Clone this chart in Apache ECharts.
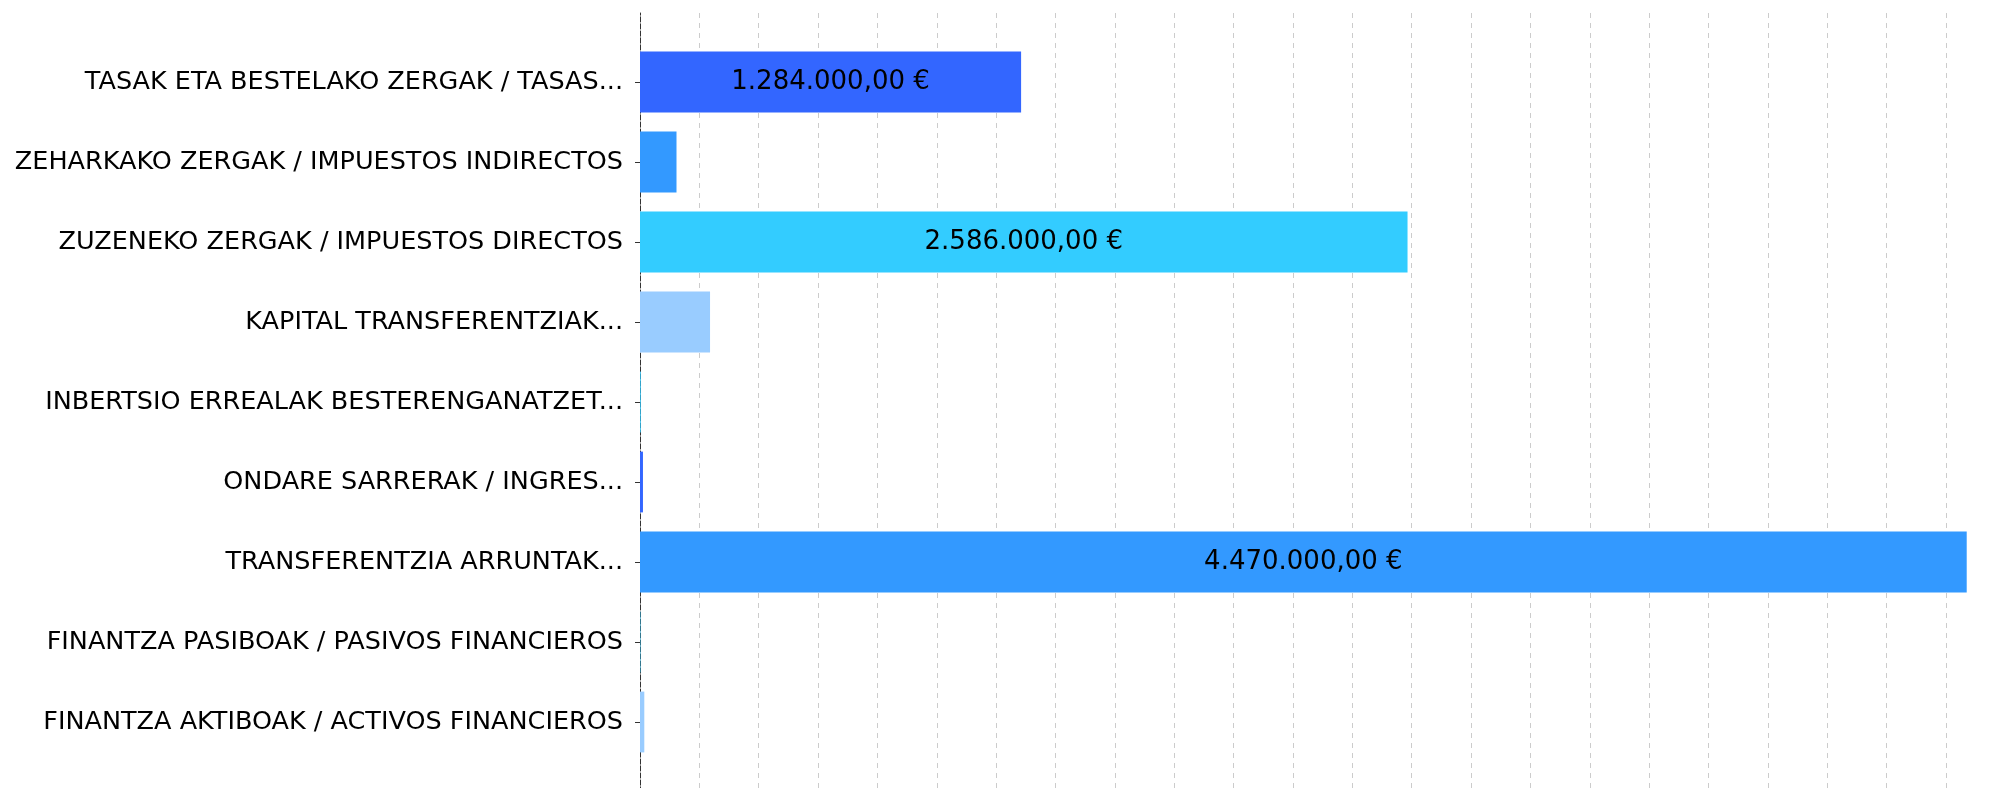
<!DOCTYPE html>
<html>
<head>
<meta charset="utf-8">
<script src="https://cdn.jsdelivr.net/npm/echarts@6/dist/echarts.min.js"></script>
<style>
html,body{margin:0;padding:0;background:#fff;}
#chart{width:1995px;height:788px;}
</style>
</head>
<body>
<div id="chart"></div>
<script>
var categories = [
  'TASAK ETA BESTELAKO ZERGAK / TASAS...',
  'ZEHARKAKO ZERGAK / IMPUESTOS INDIRECTOS',
  'ZUZENEKO ZERGAK / IMPUESTOS DIRECTOS',
  'KAPITAL TRANSFERENTZIAK...',
  'INBERTSIO ERREALAK BESTERENGANATZET...',
  'ONDARE SARRERAK / INGRES...',
  'TRANSFERENTZIA ARRUNTAK...',
  'FINANTZA PASIBOAK / PASIVOS FINANCIEROS',
  'FINANTZA AKTIBOAK / ACTIVOS FINANCIEROS'
];
var values = [1284000, 123000, 2586000, 236000, 2500, 10000, 4470000, 1500, 14500];
var palette = ['#3366ff', '#3399ff', '#33ccff', '#99ccff', '#33ccff', '#3366ff', '#3399ff', '#33ccff', '#99ccff'];
var labelThreshold = 500000;

function fmtEuro(v) {
  var parts = v.toFixed(2).split('.');
  var intPart = parts[0].replace(/\B(?=(\d{3})+(?!\d))/g, '.');
  return intPart + ',' + parts[1] + ' €';
}

var FONT = 'DejaVu Sans';
var chart = echarts.init(document.getElementById('chart'), null, {renderer: 'canvas'});
var gridLeft = 640, gridWidth = 1365.3;

chart.setOption({
  animation: false,
  backgroundColor: '#ffffff',
  grid: [
    {left: gridLeft, width: gridWidth, top: 42, height: 720, containLabel: false, outerBoundsMode: 'none'},
    {left: gridLeft, width: gridWidth, top: 13, height: 800, containLabel: false, outerBoundsMode: 'none'}
  ],
  xAxis: [
    {gridIndex: 0, type: 'value', min: 0, max: 4600000, interval: 200000, show: false},
    {gridIndex: 1, type: 'value', min: 0, max: 4600000, interval: 200000,
      axisLine: {show: false}, axisTick: {show: false}, axisLabel: {show: false},
      splitLine: {show: true, lineStyle: {color: '#cccccc', width: 1, type: [5, 5]}}}
  ],
  yAxis: [
    {gridIndex: 0, type: 'category', inverse: true, data: categories,
      axisLine: {show: false},
      axisTick: {show: true, alignWithLabel: true, length: 5, lineStyle: {color: '#333333'}},
      axisLabel: {margin: 17, color: '#000000', fontFamily: FONT, fontSize: 25.5},
      splitLine: {show: false}},
    {gridIndex: 1, type: 'value', min: 0, max: 1,
      axisLine: {show: true, onZero: false, lineStyle: {color: '#333333', width: 1, type: [5, 2]}},
      axisTick: {show: false}, axisLabel: {show: false}, splitLine: {show: false}}
  ],
  series: [{
    type: 'bar',
    xAxisIndex: 0,
    yAxisIndex: 0,
    barCategoryGap: '24%',
    data: values.map(function (v, i) {
      return {value: v, itemStyle: {color: palette[i % palette.length]}};
    }),
    label: {
      show: true,
      position: 'inside',
      color: '#000000',
      fontFamily: FONT,
      fontSize: 26,
      formatter: function (p) { return p.value >= labelThreshold ? fmtEuro(p.value) : ''; }
    }
  }]
});
</script>
</body>
</html>
